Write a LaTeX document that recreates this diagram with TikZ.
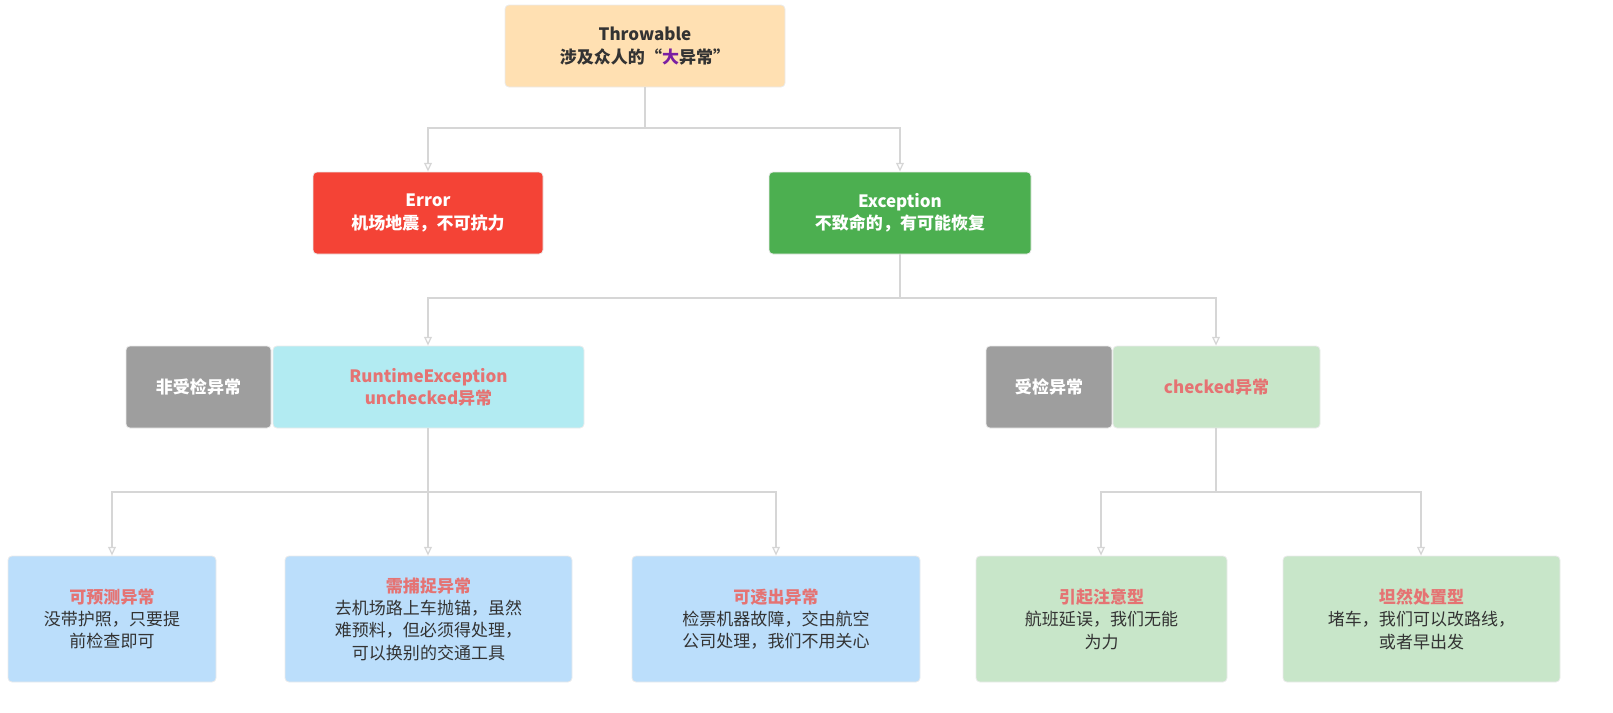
\documentclass[tikz,border=0pt]{standalone}
\usepackage{fontspec}
\setmainfont{Noto Sans CJK SC}
\usetikzlibrary{arrows.meta}
\definecolor{peach}{HTML}{FFE0B2}
\definecolor{red1}{HTML}{F44336}
\definecolor{grn}{HTML}{4CAF50}
\definecolor{gry}{HTML}{9E9E9E}
\definecolor{cyanl}{HTML}{B2EBF2}
\definecolor{grnl}{HTML}{C8E6C9}
\definecolor{bluel}{HTML}{BBDEFB}
\definecolor{sal}{HTML}{E57373}
\definecolor{txt}{HTML}{333333}
\definecolor{ln}{HTML}{D6D6D6}
\definecolor{purp}{HTML}{7B1FA2}
\def\sk{1.029}
\tikzset{
 box/.style={rounded corners=4pt, draw=black!8, line width=0.8pt, align=center, font=\fontsize{17.5}{23}\selectfont, text=txt, inner sep=0pt},
 conn/.style={draw=ln, line width=1.3pt},
 arr/.style={conn, -{Triangle[width=8pt,length=9pt,fill=white]}},
}
\newcommand{\bx}[6]{\node[box, fill=#2, minimum width=\sk*(#5-#3)*1pt, minimum height=\sk*(#6-#4)*1pt] (#1) at ({(#3+#5)/2},{(#4+#6)/2})}
\begin{document}
\begin{tikzpicture}[x=\sk pt,y=-\sk pt]
\useasboundingbox (0,0) rectangle (1613,712);
\bx{thr}{peach}{505}{5}{785}{87} {\textbf{Throwable}\\\textbf{涉及众人的“\textcolor{purp}{大}异常”}};
\bx{err}{red1}{313}{172}{543}{254} {\color{white}\textbf{Error}\\\color{white}\textbf{机场地震，不可抗力}};
\bx{exc}{grn}{769}{172}{1031}{254} {\color{white}\textbf{Exception}\\\color{white}\textbf{不致命的，有可能恢复}};
\bx{ung}{gry}{126}{346}{271}{428} {\color{white}\textbf{非受检异常}};
\bx{rt}{cyanl}{273}{346}{584}{428} {\color{sal}\textbf{RuntimeException}\\\color{sal}\textbf{unchecked异常}};
\bx{chg}{gry}{986}{346}{1112}{428} {\color{white}\textbf{受检异常}};
\bx{chk}{grnl}{1113}{346}{1320}{428} {\color{sal}\textbf{checked异常}};
\bx{b1}{bluel}{8}{556}{216}{682} {\textcolor{sal}{\textbf{可预测异常}}\\没带护照，只要提\\前检查即可};
\bx{b2}{bluel}{285}{556}{572}{682} {\textcolor{sal}{\textbf{需捕捉异常}}\\去机场路上车抛锚，虽然\\难预料，但必须得处理，\\可以换别的交通工具};
\bx{b3}{bluel}{632}{556}{920}{682} {\textcolor{sal}{\textbf{可透出异常}}\\检票机器故障，交由航空\\公司处理，我们不用关心};
\bx{b4}{grnl}{976}{556}{1227}{682} {\textcolor{sal}{\textbf{引起注意型}}\\航班延误，我们无能\\为力};
\bx{b5}{grnl}{1283}{556}{1560}{682} {\textcolor{sal}{\textbf{坦然处置型}}\\堵车，我们可以改路线，\\或者早出发};
% connectors
\draw[conn] (thr.south) -- (645,128);
\draw[arr] (645,128) -| (err.north -| 428,0);
\draw[arr] (645,128) -| (exc.north -| 900,0);
\draw[conn] (exc.south) -- (900,298);
\draw[arr] (900,298) -| (rt.north -| 428,0);
\draw[arr] (900,298) -| (chk.north -| 1216,0);
\draw[conn] (rt.south -| 428,0) -- (428,492);
\draw[arr] (428,492) -| (b1.north -| 112,0);
\draw[arr] (428,492) -- (b2.north -| 428,0);
\draw[arr] (428,492) -| (b3.north -| 776,0);
\draw[conn] (chk.south -| 1216,0) -- (1216,492);
\draw[arr] (1216,492) -| (b4.north -| 1101,0);
\draw[arr] (1216,492) -| (b5.north -| 1421,0);
\end{tikzpicture}
\end{document}
